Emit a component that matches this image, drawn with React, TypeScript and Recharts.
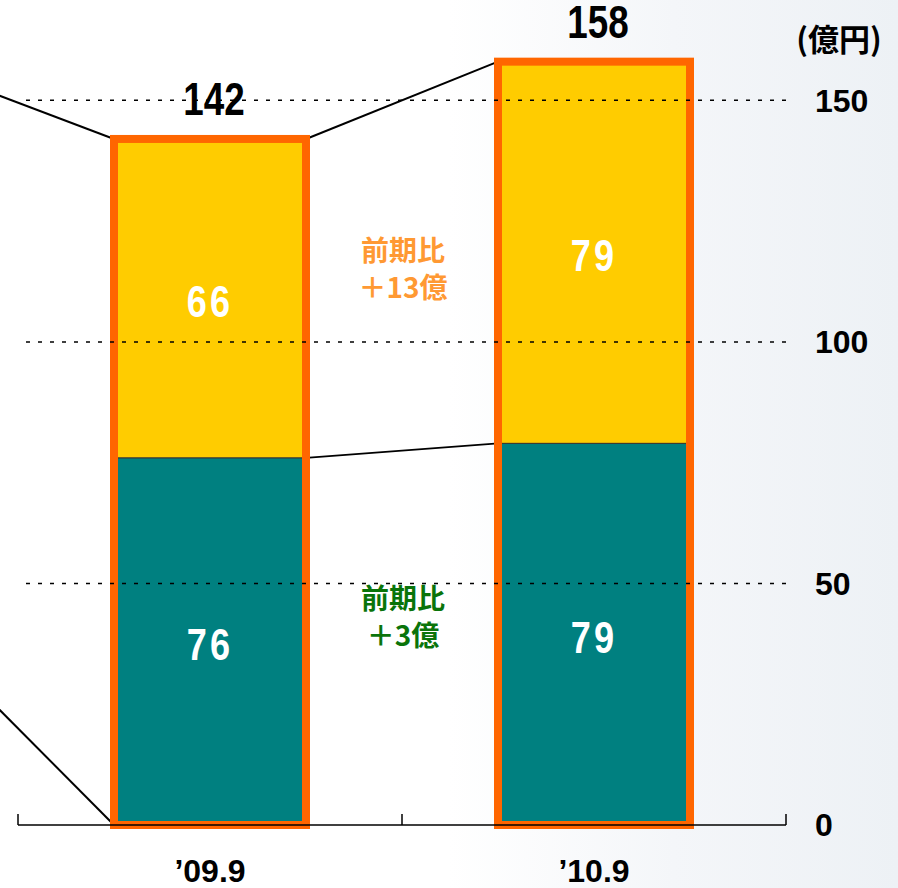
import React from 'react';
import {
  ComposedChart,
  Bar,
  XAxis,
  YAxis,
  LabelList,
  ReferenceLine,
  Label,
} from 'recharts';

// ---- data ----
const categories = ['’09.9', '’10.9'];
const lowerValues = [76, 79];
const upperValues = [66, 79];
const totals = [142, 158];
const yTicks = [0, 50, 100, 150];
const gridValues = [50, 100, 150];
const yDomain = [0, 160];
const unitLabel = '(億円)';
const diffPrefix = '前期比';
const diffUnit = '億';
const upperDiffAt = 115;
const lowerDiffAt = 43;
// callout lines coming from a previous element just off the left edge
const calloutFrom = [157, 40];
const calloutTo = [142, 0];

const data = categories.map((c, i) => ({
  cat: c,
  lower: lowerValues[i],
  upper: upperValues[i],
  total: totals[i],
}));

// ---- style ----
const GAP = 0.25; // barCategoryGap as a fraction of the band
const ORANGE = '#FF6600';
const YELLOW = '#FFCC00';
const TEAL = '#008080';
const NUM_FONT = '"Liberation Sans", Arial, sans-serif';
const CJK_FONT = '"Noto Sans CJK JP", sans-serif';

const signed = (d: number) => (d >= 0 ? '＋' : '－') + Math.abs(d) + diffUnit;

const AxisTick = (props: any) => {
  const { x, y, payload, index, visibleTicksCount } = props;
  const off = payload && typeof payload.offset === 'number' ? payload.offset : 0;
  const last = index === visibleTicksCount - 1;
  return (
    <g>
      <line x1={x - off} x2={x - off} y1={y - 11} y2={y} stroke="#000" strokeWidth={1.5} />
      {last && <line x1={x + off} x2={x + off} y1={y - 11} y2={y} stroke="#000" strokeWidth={1.5} />}
      <text
        x={x}
        y={y + 57}
        textAnchor="middle"
        fontFamily={NUM_FONT}
        fontWeight="bold"
        fontSize={32}
        fill="#000"
      >
        {payload.value}
      </text>
    </g>
  );
};

const InnerLabel = (props: any) => {
  const { x, y, width, height, value } = props;
  const cx = x + width / 2;
  const cy = y + height / 2 + 4;
  return (
    <text
      transform={`translate(${cx},${cy}) scale(0.82,1)`}
      x={0}
      y={0}
      textAnchor="middle"
      dominantBaseline="central"
      fontFamily={NUM_FONT}
      fontWeight="bold"
      fontSize={44}
      letterSpacing={4}
      fill="#fff"
    >
      {value}
    </text>
  );
};

const TotalLabel = (props: any) => {
  const { x, y, width, value } = props;
  const cx = x + width / 2 + 4;
  const cy = y - 24;
  return (
    <text
      transform={`translate(${cx},${cy}) scale(0.8,1)`}
      x={0}
      y={0}
      textAnchor="middle"
      fontFamily={NUM_FONT}
      fontWeight="bold"
      fontSize={46}
      fill="#000"
    >
      {value}
    </text>
  );
};

// Annotation between bar i and bar i+1, placed from the bar geometry
const DiffLabel = (props: any) => {
  const { x, y, width, height, value, index } = props;
  if (index >= categories.length - 1) return null;
  const band = width / (1 - 2 * GAP);
  const gapPx = (band - width) / 2;
  const cx = x + width + gapPx + 1;
  const baseY = y + height;
  const ppu = height / value;
  const yOf = (v: number) => baseY - v * ppu;
  const items = [
    { at: upperDiffAt, text: signed(upperValues[index + 1] - upperValues[index]), color: '#FF9933' },
    { at: lowerDiffAt, text: signed(lowerValues[index + 1] - lowerValues[index]), color: '#0A740A' },
  ];
  return (
    <g>
      {items.map((it, k) => {
        const cy = yOf(it.at);
        return (
          <g key={k}>
            <text
              x={cx}
              y={cy - 8}
              textAnchor="middle"
              fontFamily={CJK_FONT}
              fontWeight="bold"
              fontSize={28}
              fill={it.color}
            >
              {diffPrefix}
            </text>
            <text
              x={cx}
              y={cy + 29}
              textAnchor="middle"
              fontFamily={CJK_FONT}
              fontWeight="bold"
              fontSize={28}
              fill={it.color}
            >
              {it.text}
            </text>
          </g>
        );
      })}
    </g>
  );
};

// Orange outline around each stacked column, plus the connector lines
const OutlineShape = (props: any) => {
  const { x, y, width, height, index } = props;
  const total = totals[index];
  const baseY = y + height;
  const ppu = height / total;
  const band = width / (1 - 2 * GAP);
  const yOf = (v: number) => baseY - v * ppu;
  const lines: any[] = [];
  if (index === 0) {
    const px = x - band + width;
    lines.push(<line key="c0" x1={px} y1={yOf(calloutFrom[0])} x2={x} y2={yOf(calloutTo[0])} stroke="#000" strokeWidth={2} />);
    lines.push(<line key="c1" x1={px} y1={yOf(calloutFrom[1])} x2={x} y2={yOf(calloutTo[1])} stroke="#000" strokeWidth={2} />);
  }
  if (index < categories.length - 1) {
    const nx = x + band;
    lines.push(<line key="t" x1={x + width} y1={yOf(totals[index])} x2={nx} y2={yOf(totals[index + 1])} stroke="#000" strokeWidth={2} />);
    lines.push(<line key="l" x1={x + width} y1={yOf(lowerValues[index])} x2={nx} y2={yOf(lowerValues[index + 1])} stroke="#000" strokeWidth={1.8} />);
  }
  return (
    <g>
      {lines}
      <rect x={x} y={y} width={width} height={height} fill="none" stroke={ORANGE} strokeWidth={8} />
    </g>
  );
};

const UnitLabel = (props: any) => {
  const { viewBox } = props;
  return (
    <text
      x={viewBox.x + 53}
      y={viewBox.y - 15}
      textAnchor="middle"
      dominantBaseline="central"
      fontFamily={CJK_FONT}
      fontWeight="bold"
      fontSize={31}
      fill="#000"
    >
      {unitLabel}
    </text>
  );
};

export default function App() {
  return (
    <div
      style={{
        position: 'absolute',
        left: 0,
        top: 0,
        width: 898,
        height: 888,
        background: 'linear-gradient(90deg, #ffffff 0%, #ffffff 50%, #f4f6f9 75%, #edf1f5 100%)',
      }}
    >
      <ComposedChart
        width={898}
        height={888}
        data={data}
        margin={{ top: 52, right: 12, bottom: 0, left: 18 }}
        barCategoryGap={`${GAP * 100}%`}
      >
        <XAxis
          dataKey="cat"
          type="category"
          interval={0}
          tick={<AxisTick />}
          tickLine={false}
          tickSize={0}
          tickMargin={0}
          height={63}
          axisLine={{ stroke: '#000', strokeWidth: 1.5 }}
        />
        <XAxis xAxisId="o" dataKey="cat" type="category" hide />
        <YAxis
          orientation="right"
          width={100}
          domain={yDomain}
          ticks={yTicks}
          interval={0}
          tickLine={false}
          axisLine={false}
          tickSize={0}
          tickMargin={29}
          tick={{ fill: '#000', fontSize: 32, fontWeight: 'bold', fontFamily: NUM_FONT }}
        >
          <Label content={<UnitLabel />} position="top" />
        </YAxis>
        {gridValues.map((v) => (
          <ReferenceLine
            key={v}
            y={v}
            stroke="#000"
            strokeWidth={1.5}
            strokeDasharray="4 8"
          />
        ))}
        <Bar
          dataKey="lower"
          stackId="s"
          fill={TEAL}
          stroke="#333"
          strokeWidth={1}
          isAnimationActive={false}
        >
          <LabelList dataKey="lower" content={<InnerLabel />} />
        </Bar>
        <Bar
          dataKey="upper"
          stackId="s"
          fill={YELLOW}
          stroke="#333"
          strokeWidth={1}
          isAnimationActive={false}
        >
          <LabelList dataKey="upper" content={<InnerLabel />} />
        </Bar>
        <Bar
          xAxisId="o"
          dataKey="total"
          fill="none"
          shape={<OutlineShape />}
          isAnimationActive={false}
        >
          <LabelList dataKey="total" content={<TotalLabel />} />
          <LabelList dataKey="total" content={<DiffLabel />} />
        </Bar>
      </ComposedChart>
    </div>
  );
}
